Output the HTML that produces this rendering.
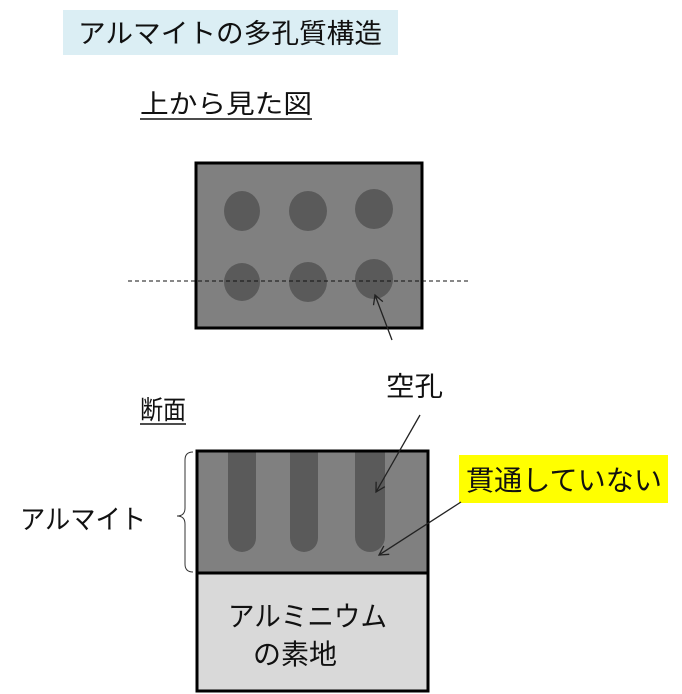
<!DOCTYPE html>
<html><head><meta charset="utf-8"><style>
body{margin:0;width:682px;height:694px;background:#fff;overflow:hidden;font-family:"Liberation Sans","Noto Sans CJK JP",sans-serif;}
</style></head><body>
<svg width="682" height="694" xmlns="http://www.w3.org/2000/svg" style="position:absolute;left:0;top:0;font-family:'Liberation Sans','Noto Sans CJK JP',sans-serif">
<defs><marker id="a" markerWidth="12" markerHeight="12" refX="10" refY="6" orient="auto" markerUnits="userSpaceOnUse"><path d="M1,1 L10,6 L1,11" fill="none" stroke="#222" stroke-width="1.3"/></marker></defs>
<rect x="63" y="10" width="335" height="45" fill="#dbeef4"/>
<text x="78" y="43" font-size="27" fill="#111" textLength="304" lengthAdjust="spacingAndGlyphs">アルマイトの多孔質構造</text>
<text x="140" y="113" font-size="26" fill="#111" textLength="172" lengthAdjust="spacingAndGlyphs">上から見た図</text>
<line x1="140" y1="119" x2="312" y2="119" stroke="#111" stroke-width="1.5"/>
<rect x="196" y="163" width="226" height="165" fill="#808080" stroke="#000" stroke-width="3"/>
<g fill="#5a5a5a">
<ellipse cx="242" cy="211" rx="18" ry="20"/><ellipse cx="308" cy="211" rx="19" ry="20"/><ellipse cx="374" cy="209" rx="19" ry="20"/>
<ellipse cx="242" cy="282" rx="18" ry="19"/><ellipse cx="308" cy="282" rx="19" ry="20"/><ellipse cx="374" cy="279" rx="19" ry="20"/>
</g>
<line x1="128" y1="281" x2="470" y2="281" stroke="#111" stroke-width="1" stroke-dasharray="4,3"/>
<text x="386" y="396" font-size="27" fill="#111" textLength="57" lengthAdjust="spacingAndGlyphs">空孔</text>
<line x1="392" y1="340" x2="375" y2="295" stroke="#222" stroke-width="1.3" marker-end="url(#a)"/>
<text x="140" y="419" font-size="26" fill="#111" textLength="46" lengthAdjust="spacingAndGlyphs">断面</text>
<line x1="140" y1="424" x2="186" y2="424" stroke="#111" stroke-width="1.5"/>
<rect x="197" y="451" width="231" height="122" fill="#808080"/>
<rect x="197" y="573" width="231" height="118" fill="#d9d9d9"/>
<g fill="#5a5a5a">
<path d="M228,451 H256 V538 A14,14 0 0 1 228,538 Z"/>
<path d="M290,451 H318 V538 A14,14 0 0 1 290,538 Z"/>
<path d="M355,451 H385 V537 A15,15 0 0 1 355,537 Z"/>
</g>
<rect x="197" y="451" width="231" height="240" fill="none" stroke="#000" stroke-width="3"/>
<line x1="197" y1="573" x2="428" y2="573" stroke="#000" stroke-width="3"/>
<line x1="420" y1="415" x2="376" y2="492" stroke="#222" stroke-width="1.3" marker-end="url(#a)"/>
<rect x="459" y="455" width="209" height="48" fill="#ffff00"/>
<text x="466" y="490" font-size="28" fill="#111" textLength="196" lengthAdjust="spacingAndGlyphs">貫通していない</text>
<line x1="461" y1="502" x2="379" y2="555" stroke="#222" stroke-width="1.3" marker-end="url(#a)"/>
<path d="M193,452 Q185,452 185,460 V508 Q185,516 177,516 Q185,516 185,524 V564 Q185,572 193,572" fill="none" stroke="#333" stroke-width="1"/>
<text x="20" y="529" font-size="27" fill="#111" textLength="126" lengthAdjust="spacingAndGlyphs">アルマイト</text>
<text x="228" y="626" font-size="28" fill="#111" textLength="159" lengthAdjust="spacingAndGlyphs">アルミニウム</text>
<text x="253" y="664" font-size="28" fill="#111" textLength="84" lengthAdjust="spacingAndGlyphs">の素地</text>
</svg>
</body></html>
